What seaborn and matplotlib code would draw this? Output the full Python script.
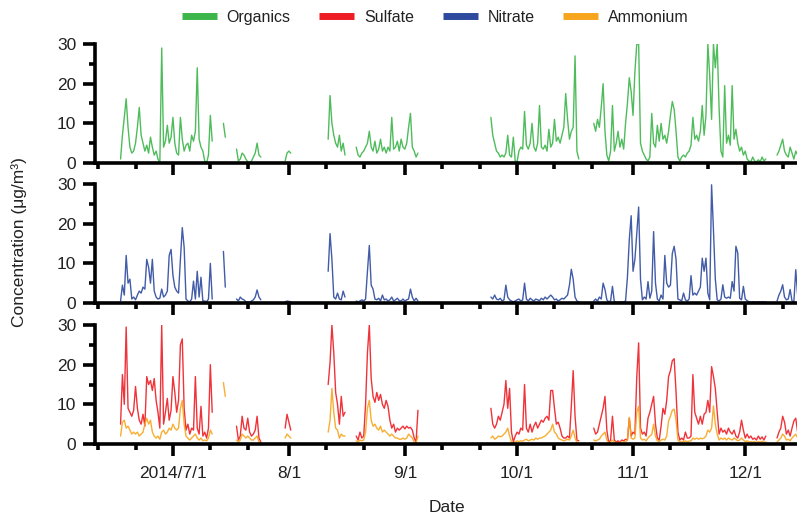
import numpy as np
import pandas as pd
import matplotlib
matplotlib.use("Agg")
import matplotlib.pyplot as plt
import matplotlib.dates as mdates
from matplotlib.lines import Line2D
import seaborn as sns

_ = np.nan

# 12-hourly series starting 2014-06-17 00:00 (NaN = no measurement)
start_date = "2014-06-17"

organics = [
    1, 7, 11.5, 16.2, 9, 4, 2.5, 3, 5, 9, 14, 7, 5, 3, 4.5, 2.5, 6.5, 4, 2, 3,
    1, 0, 29, 4, 5.5, 9.5, 5, 6.5, 11.5, 5, 2.5, 2, 11.5, 6, 3, 4.5, 5, 3, 7, 5.5,
    8, 24, 6, 4, 3, 0.5, 0, 2, 12, 5.5,
    _, _, _, _, _,
    10, 6.5,
    _, _, _, _, _,
    3.5, 0.5, 1, 2.5, 2, 1, 0.3, 0, 0.5, 1.5, 2.5, 5, 2, 1.5,
    _, _, _, _, _, _, _, _, _, _, _, _,
    0.5, 2.5, 3, 2.5,
    _, _, _, _, _, _, _, _, _, _, _, _, _, _, _, _, _, _, _,
    6, 17, 10, 7, 5, 4, 7, 3, 5, 2,
    _, _, _, _, _,
    4, 2, 1.5, 2.5, 3, 4, 5, 8, 4, 3, 5.5, 2.5, 3.5, 6, 3, 4, 2.5, 4, 3, 11.5,
    3.5, 4, 5.5, 3, 6, 4, 3.5, 5, 9, 12.5, 4, 3, 1.5, 2.5,
    _, _, _, _, _, _, _, _, _, _, _, _, _, _, _, _, _, _, _, _,
    _, _, _, _, _, _, _, _, _, _, _, _, _, _, _, _, _, _,
    11.5, 7, 5, 3, 2.5, 1.5, 2, 1.5, 2.5, 7, 2, 1.5, 6.5, 0.5, 0.3, 3, 4, 3.5, 13, 4.5,
    3.5, 5, 10, 4, 3, 5, 14.5, 4, 3.5, 4.5, 3, 8.5, 4, 5, 11, 5.5, 6.5, 5, 7, 9,
    17.5, 11, 6, 8, 9, 27, 3, 1,
    _, _, _, _, _, _, _,
    10, 8, 11, 9, 14, 20, 8, 2, 0.5, 3, 14.5, 3, 5, 8, 4, 6, 3.5, 10, 15, 21.5,
    18, 12, 23, 30, 30, 5, 3, 2, 1, 0.5, 1.5, 12.5, 5, 4, 9.5, 5.5, 10, 6, 7, 5,
    8, 12, 15.5, 13.5, 8, 1.5, 0.5, 1.5, 2, 1.5, 2.5, 3, 4.5, 11.5, 6, 7, 5.5, 8, 14.5, 7,
    12, 30, 22, 11, 30, 24, 30, 14, 3, 1.5, 19.5, 5, 7, 4.5, 19.5, 6, 8.5, 5, 3, 4,
    2, 3, 1, 0.5, 0.3, 1.5, 0.5, 0.3, 0.8, 0.3, 1.5, 0.5, 1,
    _, _, _, _, _,
    2, 3, 4.5, 6, 3, 2, 1.5, 4, 2.5, 1, 3, 2,
]

nitrate = [
    0.5, 4.5, 2, 12, 5, 6, 1, 1.5, 0.8, 2, 3, 2.5, 4, 3.5, 11, 9, 5, 11, 3, 1.5,
    1, 1.2, 3.5, 1.5, 2, 3, 12, 13.5, 7, 4, 3, 2.5, 11, 19, 14, 1, 0.5, 0.3, 1, 5.5,
    1, 8, 1.5, 6.5, 0.5, 0.5, 0.3, 1, 10, 1,
    _, _, _, _, _,
    13, 4,
    _, _, _, _, _,
    1, 0.5, 1.5, 1, 0.8, 0.3, 0.2, 0.2, 0.5, 0.8, 1.5, 3.3, 1.5, 0.8,
    _, _, _, _, _, _, _, _, _, _, _, _,
    0.3, 0.5, 0.4, 0.3,
    _, _, _, _, _, _, _, _, _, _, _, _, _, _, _, _, _, _, _,
    8, 17.5, 11, 1.5, 1, 2.5, 1, 0.8, 3, 1.5,
    _, _, _, _, _,
    0.5, 0.3, 0.5, 0.8, 0.5, 1, 8, 14.5, 4.5, 3.5, 1, 0.8, 1.2, 0.5, 2, 0.8, 1, 0.5, 0.8, 1.5,
    0.5, 0.8, 1.2, 0.6, 0.5, 1, 0.5, 0.8, 1, 3.5, 1.5, 0.5, 1.2, 0.5,
    _, _, _, _, _, _, _, _, _, _, _, _, _, _, _, _, _, _, _, _,
    _, _, _, _, _, _, _, _, _, _, _, _, _, _, _, _, _, _,
    1.5, 1, 2, 1, 0.8, 1.2, 0.5, 0.8, 4.5, 1.5, 0.8, 0.5, 0.3, 0.5, 0.8, 1, 0.5, 0.8, 5, 1,
    0.5, 1.2, 0.8, 0.5, 1, 0.8, 0.6, 1.2, 0.8, 1.5, 1, 1.5, 2, 1.5, 0.8, 1, 0.5, 0.8, 1.2, 1,
    1.5, 2, 4.5, 8.5, 6, 1.5, 0.5, 0.3,
    _, _, _, _, _, _, _,
    0.5, 1, 0.5, 1.5, 1, 5, 3.4, 0.8, 0.3, 0.5, 4.2, 0.3, 0.2, 0.2, 0.3, 0.2, 0.3, 0.5, 6.5, 16,
    22, 8, 11, 17.5, 24.2, 6, 0.8, 1.5, 1, 5.4, 1.2, 3, 18, 5, 1, 0.5, 2, 1, 12, 5,
    4, 4.5, 12.5, 14.3, 11, 1, 0.8, 0.5, 2.5, 0.8, 0.5, 1, 6.9, 2, 2.5, 2, 3, 4, 11.3, 8,
    11.3, 2.5, 0.8, 29.8, 18.4, 6, 0.8, 0.5, 1, 4.6, 1.5, 1.2, 1.5, 1.2, 5.4, 3, 14.3, 12.6, 1.2, 0.8,
    4.2, 1, 0.6, 0.3, 0.2, 0.3, 0.2, 0.2, 0.3, 0.2, 0.3, 0.2, 0.3,
    _, _, _, _, _,
    0.5, 2, 3, 4.6, 1.5, 0.8, 1, 3.4, 0.5, 0.3, 8.4, 2,
]

sulfate = [
    5, 17.5, 10, 29.5, 9, 8, 7, 8.5, 14.5, 9, 6, 5, 7.5, 4.5, 17, 15, 16, 13.5, 16.5, 11,
    8, 4, 30, 5, 8, 11.5, 6, 8.5, 17, 13, 8, 11, 25, 26.5, 9, 3.5, 5, 2.5, 4, 3.5,
    17, 4, 2.5, 9.5, 2, 3, 1.5, 4, 20, 8,
    _, _, _, _, _,
    _, _,
    _, _, _, _, _,
    4.5, 1, 2, 7, 4, 3.5, 6.5, 3, 2, 2.5, 3.5, 7, 1.5, 0.5,
    _, _, _, _, _, _, _, _, _, _, _, _,
    4, 7.5, 5.5, 3.5,
    _, _, _, _, _, _, _, _, _, _, _, _, _, _, _, _, _, _, _,
    15, 20.5, 30, 23, 13, 10, 5, 12, 7, 8,
    _, _, _, _, _,
    2, 1, 3, 1.5, 2, 10, 23, 30, 16.5, 12, 10.5, 13, 11, 12.5, 10, 9, 11, 9.5, 6, 4,
    5, 3, 4, 3.5, 4, 4.5, 3.8, 4.5, 4, 4.2, 3.5, 1.5, 0.5, 8.5,
    _, _, _, _, _, _, _, _, _, _, _, _, _, _, _, _, _, _, _, _,
    _, _, _, _, _, _, _, _, _, _, _, _, _, _, _, _, _, _,
    9, 5, 4, 5, 7, 6, 8, 10, 16, 9, 14, 3, 0.5, 2, 3, 2.5, 4, 3.5, 15, 4,
    3, 5, 3, 4.5, 5.5, 4, 5, 6, 5.5, 6.5, 7, 6, 13.5, 13.5, 9, 5, 5.5, 4, 2, 1.5,
    1.5, 2, 1.5, 9.5, 18.5, 7, 1, 0.8,
    _, _, _, _, _, _, _,
    4, 2.5, 3, 5, 7, 9, 12, 3.5, 0.3, 1, 7, 1, 0.5, 0.8, 0.5, 1, 0.8, 1.2, 1, 6.5,
    2, 3, 2.5, 17, 25.5, 4, 2.5, 3, 2, 6.5, 8, 10, 12, 5, 1.5, 1, 4.5, 9, 7.5, 11,
    17, 18.5, 21, 21.5, 13, 3, 1, 1.5, 1, 3, 1.5, 1.5, 2, 17.5, 8, 6.5, 5, 7, 5, 7.5,
    8, 11, 8, 19.5, 17, 14, 8, 2.5, 4, 3, 3.5, 2.5, 4, 3, 2.5, 3.5, 2, 1.5, 3, 6,
    3.5, 1.5, 2.5, 1.5, 2, 1.2, 1.5, 1, 2, 1.2, 1.8, 1, 2,
    _, _, _, _, _,
    1.5, 3, 4, 7, 5.5, 2.5, 3.5, 2, 4, 5.8, 6.5, 3,
]

ammonium = [
    2, 5.5, 6, 4, 4.5, 3.5, 2.5, 3, 2.5, 3, 2, 2.5, 3, 5, 6.5, 5, 6, 3, 2, 1.5,
    2, 1.2, 3, 3.5, 2.5, 3, 4, 3.5, 5, 4, 3.5, 4, 9, 11, 5, 2, 1.5, 1, 1.5, 2,
    2.5, 1.5, 1, 1.5, 0.8, 1, 0.8, 1.5, 3.5, 2.5,
    _, _, _, _, _,
    15.5, 12,
    _, _, _, _, _,
    1, 0.5, 1, 2.5, 2, 1.5, 2, 1.5, 1, 1, 1.5, 2, 0.5, 0.3,
    _, _, _, _, _, _, _, _, _, _, _, _,
    1.5, 2.5, 2, 1.5,
    _, _, _, _, _, _, _, _, _, _, _, _, _, _, _, _, _, _, _,
    3, 6, 14, 8, 4, 3.5, 1.5, 2.5, 2, 2,
    _, _, _, _, _,
    0.8, 0.5, 1, 0.8, 1, 3, 9, 11, 6, 4.5, 5, 4, 3.5, 4.5, 3, 3.5, 3, 2.5, 2, 2.5,
    2, 1.5, 1.5, 1.2, 1.2, 1.5, 1.2, 1.5, 2.5, 2, 1.5, 0.5, 0.3, 2,
    _, _, _, _, _, _, _, _, _, _, _, _, _, _, _, _, _, _, _, _,
    _, _, _, _, _, _, _, _, _, _, _, _, _, _, _, _, _, _,
    1.5, 2, 1.2, 1.5, 2, 1.8, 2, 2.5, 3, 4, 2, 0.5, 0.3, 0.5, 0.8, 0.6, 0.8, 0.7, 1, 1.2,
    0.8, 1, 1.2, 1, 1.5, 1.2, 1.5, 1.5, 1.8, 2, 2.5, 3, 3.5, 5, 3, 2.5, 1.5, 1.2, 1, 0.8,
    1, 1.2, 1, 2, 3.5, 1.5, 0.4, 0.3,
    _, _, _, _, _, _, _,
    1, 0.8, 1, 1.2, 2, 2.5, 3, 1, 0.3, 0.4, 1, 0.5, 0.4, 0.3, 0.5, 0.4, 0.5, 0.6, 1, 6.7,
    1.5, 1.2, 1.5, 8, 9.5, 1.5, 1, 1.2, 0.8, 1.5, 2, 2.4, 5, 2, 0.8, 0.6, 1, 1.2, 1, 2,
    5.8, 7, 8.5, 8.8, 6, 1, 0.5, 0.6, 0.5, 0.8, 0.6, 0.7, 0.8, 1.5, 1.2, 1.5, 1.2, 1.5, 1.3, 1.5,
    2, 3.5, 3, 4, 9.6, 5, 2.5, 1, 1.5, 1.2, 1.5, 1, 1.5, 1.2, 1, 1.5, 1.2, 0.8, 1, 1.5,
    1, 0.6, 0.8, 0.5, 0.6, 0.5, 0.6, 0.4, 0.6, 0.5, 0.7, 0.4, 0.5,
    _, _, _, _, _,
    0.5, 1, 1.5, 2.5, 2, 1, 1.2, 0.8, 1.5, 2, 2.5, 1.5,
]

species = ["Organics", "Sulfate", "Nitrate", "Ammonium"]
colors = {"Organics": "#3cb54a", "Sulfate": "#ee1d24",
          "Nitrate": "#2d4a9e", "Ammonium": "#f7a51d"}
panels = [["Organics"], ["Nitrate"], ["Sulfate", "Ammonium"]]
month_ticks = ["2014-07-01", "2014-08-01", "2014-09-01",
               "2014-10-01", "2014-11-01", "2014-12-01"]
month_labels = ["2014/7/1", "8/1", "9/1", "10/1", "11/1", "12/1"]
y_major = [0, 10, 20, 30]
y_minor = [5, 15, 25]

sns.set_theme(style="ticks")
plt.rcParams["font.family"] = ["Liberation Sans", "DejaVu Sans"]
plt.rcParams["axes.edgecolor"] = "black"
plt.rcParams["xtick.color"] = "black"
plt.rcParams["ytick.color"] = "black"
plt.rcParams["text.color"] = "#222222"

dates = pd.date_range(start_date, periods=len(organics), freq="12h")
df = pd.DataFrame({"Date": dates, "Organics": organics, "Sulfate": sulfate,
                   "Nitrate": nitrate, "Ammonium": ammonium})

fig = plt.figure(figsize=(7.97, 5.18), dpi=100)
left, width, height = 95 / 797, 1 - 95 / 797, 119 / 518
bottoms = [1 - 163 / 518, 1 - 303 / 518, 1 - 444 / 518]
axes = [fig.add_axes([left, b, width, height]) for b in bottoms]

for ax, names in zip(axes, panels):
    for name in names:
        s = df[["Date", name]].copy()
        s["run"] = s[name].isna().cumsum()
        s = s.dropna()
        sns.lineplot(data=s, x="Date", y=name, units="run", estimator=None,
                     color=colors[name], lw=1.0, alpha=0.9, ax=ax, legend=False)
    ax.set_xlim(pd.Timestamp("2014-06-10 04:00"), pd.Timestamp("2014-12-14 20:00"))
    ax.set_ylim(0, 30)
    ax.set_yticks(y_major)
    ax.set_yticks(y_minor, minor=True)
    ax.set_xticks(pd.to_datetime(month_ticks))
    ax.xaxis.set_minor_locator(mdates.DayLocator(bymonthday=[11, 21]))
    ax.set_xticklabels(month_labels)
    for sp in ["top", "right"]:
        ax.spines[sp].set_visible(False)
    for sp in ["left", "bottom"]:
        ax.spines[sp].set_linewidth(2.6)
    ax.tick_params(which="major", length=8.5, width=2.6, labelsize=12.5, pad=5,
                   labelcolor="#222222")
    ax.tick_params(axis="x", which="major", pad=7)
    ax.tick_params(which="minor", length=4.5, width=2.6)
    ax.set_xlabel("")
    ax.set_ylabel("")
    ax.set_facecolor("white")

for ax in axes[:2]:
    ax.tick_params(labelbottom=False)

fig.text(0.024, 1 - 242 / 518, "Concentration (μg/m³)", rotation=90,
         ha="center", va="center", fontsize=12.5)
fig.text(447 / 797, 1 - 508 / 518, "Date", ha="center", va="center", fontsize=12.5)

handles = [Line2D([], [], color=colors[n], lw=5, solid_capstyle="butt") for n in species]
fig.legend(handles, species, ncol=4, loc="center", bbox_to_anchor=(0.546, 0.967),
           frameon=False, handlelength=2.2, handletextpad=0.6, columnspacing=1.8,
           fontsize=11.5)

fig.savefig("out.png", dpi=100, facecolor="white")
